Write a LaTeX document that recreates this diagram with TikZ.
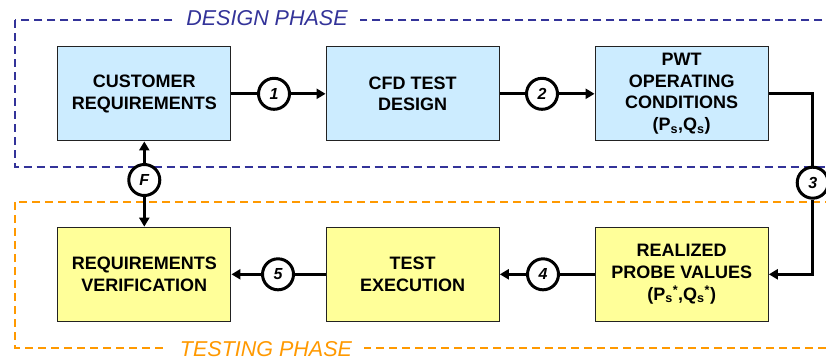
\documentclass[tikz,border=0pt]{standalone}
\usepackage{fontspec}
\setmainfont{Liberation Sans}
\usetikzlibrary{arrows.meta}
\definecolor{navydash}{HTML}{333399}
\definecolor{orangedash}{HTML}{FF9900}
\definecolor{boxblue}{HTML}{CCECFF}
\definecolor{boxyellow}{HTML}{FFFF99}
\definecolor{boxline}{HTML}{222222}
\tikzset{
  procbox/.style={draw=boxline, line width=1pt, minimum width=173.3pt, minimum height=94.3pt,
    align=center, inner sep=0pt, font=\fontsize{18}{21.7}\selectfont\bfseries},
  bluebox/.style={procbox, fill=boxblue},
  yellowbox/.style={procbox, fill=boxyellow},
  numcirc/.style={circle, draw=black, line width=3pt, fill=white, minimum size=31pt, inner sep=0pt,
    font=\fontsize{16}{16}\selectfont\bfseries\itshape},
  conn/.style={line width=3pt, -{Triangle[length=9pt,width=10pt]}},
  plainconn/.style={line width=3pt},
  phaseframe/.style={line width=2pt, dash pattern=on 8pt off 5pt},
  phaselabel/.style={fill=white, inner xsep=12pt, inner ysep=2pt, font=\fontsize{21.5}{22}\selectfont\itshape}
}
\begin{document}
\begin{tikzpicture}[x=1pt,y=-1pt]
\useasboundingbox (0,0) rectangle (826,360);
\clip (0,0) rectangle (826,360);
\fill[white] (0,0) rectangle (826,360);

% phase frames
\draw[phaseframe, navydash] (14.7,20) rectangle (850,167);
\draw[phaseframe, orangedash] (14.7,202) rectangle (850,347.7);
\node[phaselabel, text=navydash] (designlbl) at (267,18) {DESIGN PHASE};
\node[phaselabel, text=orangedash] (testlbl) at (266,349) {TESTING PHASE};

% boxes
\node[bluebox] (cr) at (144.3,93.8) {CUSTOMER\\REQUIREMENTS};
\node[bluebox] (cfd) at (412.7,93.8) {CFD TEST\\DESIGN};
\node[bluebox] (pwt) at (681.7,93.8) {PWT\\OPERATING\\CONDITIONS\\(P\textsubscript{s},Q\textsubscript{s})};
\node[yellowbox] (rv) at (144.3,274.3) {REQUIREMENTS\\VERIFICATION};
\node[yellowbox] (te) at (412.7,274.3) {TEST\\EXECUTION};
\node[yellowbox] (rpv) at (681.7,274.3) {REALIZED\\PROBE VALUES\\(P\textsubscript{s}\textsuperscript{*},Q\textsubscript{s}\textsuperscript{*})};

% numbered circles
\node[numcirc] (c1) at (274,93.8) {1};
\node[numcirc] (c2) at (542,93.8) {2};
\node[numcirc] (c3) at (812.7,182.7) {3};
\node[numcirc] (c4) at (543,274.3) {4};
\node[numcirc] (c5) at (278,274.3) {5};
\node[numcirc] (cF) at (144.3,180) {F};

\coordinate (k1) at (812.7,93.8);
\coordinate (k2) at (812.7,274.3);

% connectors
\draw[plainconn] (cr.east) -- (c1.west);
\draw[conn] (c1.east) -- (cfd.west);
\draw[plainconn] (cfd.east) -- (c2.west);
\draw[conn] (c2.east) -- (pwt.west);
\draw[plainconn] (pwt.east) -- (k1) -- (c3.north);
\draw[conn] (c3.south) -- (k2) -- (rpv.east);
\draw[plainconn] (rpv.west) -- (c4.east);
\draw[conn] (c4.west) -- (te.east);
\draw[plainconn] (te.west) -- (c5.east);
\draw[conn] (c5.west) -- (rv.east);
\draw[conn] (cF.north) -- (cr.south);
\draw[conn] (cF.south) -- (rv.north);
\end{tikzpicture}
\end{document}
